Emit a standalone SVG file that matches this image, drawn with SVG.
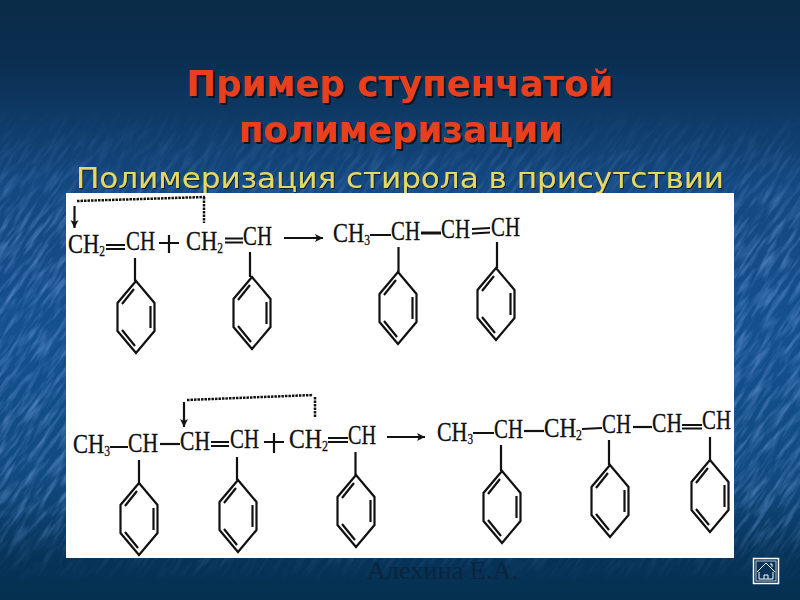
<svg xmlns="http://www.w3.org/2000/svg" xmlns:xlink="http://www.w3.org/1999/xlink" width="800" height="600" viewBox="0 0 800 600">
<style>
.chem{font-family:"Liberation Serif","Times New Roman",serif;font-size:27.500px;fill:#111;stroke:#111;stroke-width:.3px}
.sub{font-size:14px}
.b{stroke:#111;stroke-width:2.200;fill:none}
.t{stroke:#111;stroke-width:3;fill:none}
.d{stroke:#111;stroke-width:2.500;fill:none;stroke-dasharray:2.500 1}
.title{font-family:"DejaVu Sans",sans-serif;font-weight:bold;font-size:35.500px;fill:#e8401c;text-anchor:middle;filter:url(#sh)}
.subtitle{font-family:"DejaVu Sans",sans-serif;font-size:27.500px;fill:#e4d864;text-anchor:middle;filter:url(#sh2)}
</style>
<defs>
<linearGradient id="bg" x1="0" y1="0" x2="0" y2="1">
<stop offset="0" stop-color="#0b2c48"/><stop offset=".1" stop-color="#0a2e50"/><stop offset=".3" stop-color="#13477f"/><stop offset=".55" stop-color="#15508f"/><stop offset=".8" stop-color="#114a80"/><stop offset=".93" stop-color="#063358"/><stop offset="1" stop-color="#053050"/>
</linearGradient>
<linearGradient id="fade" x1="0" y1="0" x2="0" y2="1">
<stop offset="0" stop-color="#fff" stop-opacity="0"/><stop offset=".18" stop-color="#fff" stop-opacity="0"/><stop offset=".4" stop-color="#fff" stop-opacity="1"/><stop offset=".85" stop-color="#fff" stop-opacity="1"/><stop offset=".97" stop-color="#fff" stop-opacity="0"/>
</linearGradient>
<mask id="fm"><rect width="800" height="600" fill="url(#fade)"/></mask>
<filter id="tex" x="0" y="0" width="1" height="1" color-interpolation-filters="sRGB">
<feTurbulence type="fractalNoise" baseFrequency="0.035 0.22" numOctaves="3" seed="7"/>
<feColorMatrix type="matrix" values="0 0 0 0 .5  0 0 0 0 .68  0 0 0 0 .92  1.100 0 0 0 -.46"/>
</filter>
<filter id="sh" x="-5%" y="-20%" width="110%" height="140%"><feDropShadow dx="2" dy="2" stdDeviation=".4" flood-color="#0a1626"/></filter>
<filter id="sh2" x="-5%" y="-20%" width="110%" height="140%"><feDropShadow dx="1" dy="1" stdDeviation=".3" flood-color="#0a1a30"/></filter>
<marker id="ah" markerWidth="10" markerHeight="10" refX="8" refY="4" orient="auto" markerUnits="userSpaceOnUse"><path d="M0 0 L8 4 L0 8 L2 4Z" fill="#111"/></marker>
<g id="ring">
<path class="b" d="M0 0 L18.500 22 V50 L0 72 L-18.500 50 V22Z"/>
<path class="b" stroke-width="1.500" d="M-14 23 L-2 8 M-14 49 L-1 65 M14.500 25 V47"/>
</g>
</defs>
<g id="background">
<rect width="800" height="600" fill="url(#bg)"/>
<g mask="url(#fm)"><rect x="-300" y="-300" width="1400" height="1200" filter="url(#tex)" transform="rotate(-55 400 300)"/></g>
</g>
<g id="title">
<text class="title" x="400" y="96">Пример ступенчатой</text>
<text class="title" x="401" y="142">полимеризации</text>
</g>
<g id="subtitle">
<text class="subtitle" x="400" y="188" textLength="648" lengthAdjust="spacingAndGlyphs">Полимеризация стирола в присутствии</text>
</g>
<rect id="sheet" x="66" y="193" width="668" height="365" fill="#fff"/>
<g id="connectors">
<path class="d" d="M77 201 L205 197 M204 197 V223"/>
<path class="b" stroke-width="1.500" d="M74.500 206 V228" marker-end="url(#ah)"/>
<path class="d" d="M187 400 L313 395 M315 397 V418"/>
<path class="b" stroke-width="1.500" d="M184 402 V427" marker-end="url(#ah)"/>
<path class="b" d="M284 238 H323" marker-end="url(#ah)"/>
<path class="b" d="M387 437 H425" marker-end="url(#ah)"/>
</g>
<g id="styrene-1">
<text class="chem" x="68" y="253" textLength="37" lengthAdjust="spacingAndGlyphs">CH<tspan class="sub" dy="3">2</tspan></text>
<path class="b" d="M106 245 H125 M106 249 H125 M135 258 V281"/>
<text class="chem" x="126" y="250" textLength="29" lengthAdjust="spacingAndGlyphs">CH</text>
<use xlink:href="#ring" href="#ring" x="136" y="281"/>
</g>
<path id="plus-1" class="b" d="M159 243 H179 M169 235 V253"/>
<g id="styrene-2">
<text class="chem" x="186" y="250" textLength="37" lengthAdjust="spacingAndGlyphs">CH<tspan class="sub" dy="3">2</tspan></text>
<path class="b" d="M225 238.500 H243 M225 242.500 H243 M250 252 V277"/>
<text class="chem" x="243" y="245" textLength="29" lengthAdjust="spacingAndGlyphs">CH</text>
<use xlink:href="#ring" href="#ring" x="252" y="277"/>
</g>
<g id="dimer">
<text class="chem" x="333" y="242" textLength="37" lengthAdjust="spacingAndGlyphs">CH<tspan class="sub" dy="3">3</tspan></text>
<path class="b" d="M370 235 H391 M398.500 247 V272"/>
<text class="chem" x="391" y="240" textLength="29" lengthAdjust="spacingAndGlyphs">CH</text>
<path class="t" d="M421 233 H441"/>
<text class="chem" x="441" y="238" textLength="29" lengthAdjust="spacingAndGlyphs">CH</text>
<path class="b" stroke-width="1.500" d="M472 229 L490 228 M472 233.500 L490 232.500 M497 242 V268"/>
<text class="chem" x="491" y="236" textLength="29" lengthAdjust="spacingAndGlyphs">CH</text>
<use xlink:href="#ring" href="#ring" x="398" y="272"/>
<use xlink:href="#ring" href="#ring" x="496" y="268"/>
</g>
<g id="dimer-2">
<text class="chem" x="73" y="453" textLength="37" lengthAdjust="spacingAndGlyphs">CH<tspan class="sub" dy="3">3</tspan></text>
<path class="b" d="M110 447 H128 M139 460 V483"/>
<text class="chem" x="128" y="452" textLength="30" lengthAdjust="spacingAndGlyphs">CH</text>
<path class="b" d="M160 444 H180"/>
<text class="chem" x="180" y="450" textLength="30" lengthAdjust="spacingAndGlyphs">CH</text>
<path class="b" stroke-width="1.500" d="M211 442 H229 M211 446 H229 M237 457 V480"/>
<text class="chem" x="230" y="448" textLength="29" lengthAdjust="spacingAndGlyphs">CH</text>
<use xlink:href="#ring" href="#ring" x="139" y="483"/>
<use xlink:href="#ring" href="#ring" x="238" y="480"/>
</g>
<path id="plus-2" class="b" d="M264 442 H284 M274 433 V453"/>
<g id="styrene-3">
<text class="chem" x="289" y="448" textLength="39" lengthAdjust="spacingAndGlyphs">CH<tspan class="sub" dy="3">2</tspan></text>
<path class="b" d="M328 438 H348 M328 442 H348 M355.500 452 V475"/>
<text class="chem" x="348" y="444" textLength="28" lengthAdjust="spacingAndGlyphs">CH</text>
<use xlink:href="#ring" href="#ring" x="356" y="475"/>
</g>
<g id="trimer">
<text class="chem" x="437" y="441" textLength="36" lengthAdjust="spacingAndGlyphs">CH<tspan class="sub" dy="3">3</tspan></text>
<path class="b" d="M473 433 H494 M501 445 V471"/>
<text class="chem" x="494" y="438" textLength="29" lengthAdjust="spacingAndGlyphs">CH</text>
<path class="b" d="M524 431 H544"/>
<text class="chem" x="544" y="437" textLength="38" lengthAdjust="spacingAndGlyphs">CH<tspan class="sub" dy="3">2</tspan></text>
<path class="b" d="M582 429 L602 428 M609 440 V465"/>
<text class="chem" x="602" y="433" textLength="29" lengthAdjust="spacingAndGlyphs">CH</text>
<path class="b" d="M633 427 H652"/>
<text class="chem" x="652" y="432" textLength="30" lengthAdjust="spacingAndGlyphs">CH</text>
<path class="b" stroke-width="1.500" d="M682 425 H702 M682 428.500 H702 M710 437 V460"/>
<text class="chem" x="702" y="429" textLength="29" lengthAdjust="spacingAndGlyphs">CH</text>
<use xlink:href="#ring" href="#ring" x="502" y="471"/>
<use xlink:href="#ring" href="#ring" x="610" y="465"/>
<use xlink:href="#ring" href="#ring" x="710" y="460"/>
</g>
<text id="author" x="367" y="579" textLength="151" lengthAdjust="spacingAndGlyphs" font-family="'Liberation Serif',serif" font-size="25" fill="#0b2440">Алехина Е.А.</text>
<g id="home-button" fill="none" stroke="#fff">
<rect x="753.500" y="558.500" width="25" height="25" stroke-width="1.500"/>
<rect x="756" y="561" width="20" height="20" stroke-width=".7"/>
<path stroke-width="1" d="M757 572 L766 563 L775 572 M759 572 V579 H773 V572 M764 579 V575 H768 V579 M770 564 H772 V567"/>
</g>
</svg>
